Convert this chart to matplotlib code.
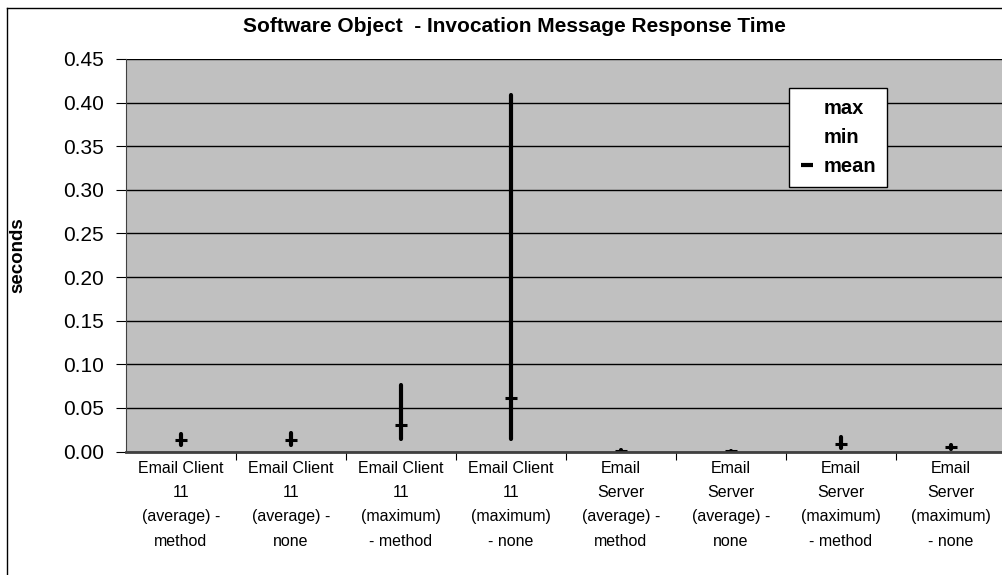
import matplotlib.pyplot as plt
from matplotlib.lines import Line2D

categories = ['Email Client\n11\n(average) -\nmethod', 'Email Client\n11\n(average) -\nnone',
              'Email Client\n11\n(maximum)\n- method', 'Email Client\n11\n(maximum)\n- none',
              'Email\nServer\n(average) -\nmethod', 'Email\nServer\n(average) -\nnone',
              'Email\nServer\n(maximum)\n- method', 'Email\nServer\n(maximum)\n- none']
max_vals = [0.020, 0.021, 0.076, 0.409, 0.002, 0.001, 0.017, 0.008]
min_vals = [0.007, 0.007, 0.014, 0.014, 0.000, 0.000, 0.004, 0.003]
mean_vals = [0.0135, 0.0135, 0.030, 0.061, 0.001, 0.0005, 0.009, 0.005]
yticks = [0.00, 0.05, 0.10, 0.15, 0.20, 0.25, 0.30, 0.35, 0.40, 0.45]

W, H = 1003, 575
fig = plt.figure(figsize=(W/100, H/100), dpi=100)
fig.patch.set_facecolor('white')

# outer chart border (clipped at right/bottom like the original)
fig.add_artist(Line2D([7/W, 7/W], [0, 1-8/H], color='k', lw=1))
fig.add_artist(Line2D([7/W, 1], [1-8/H, 1-8/H], color='k', lw=1))

left, right, top, bottom = 126, 1006, 59, 451.6
ax = fig.add_axes([left/W, 1-bottom/H, (right-left)/W, (bottom-top)/H])
ax.set_facecolor('#c0c0c0')

x = list(range(len(categories)))
ax.vlines(x, min_vals, max_vals, color='k', lw=3, capstyle='round')
ax.plot(x, mean_vals, ls='none', marker='_', ms=9, mew=2.2, color='k')

ax.set_xlim(-0.5, len(categories)-0.5)
ax.set_ylim(0, 0.45)
ax.set_yticks(yticks)
ax.set_yticklabels(['%.2f' % v for v in yticks], fontsize=15, family='Liberation Sans')
ax.yaxis.grid(True, color='k', lw=1)
ax.set_axisbelow(True)

ax.set_xticks([i+0.5 for i in x[:-1]])
ax.set_xticklabels([])
ax.tick_params(axis='x', length=6, direction='out')
ax.tick_params(axis='y', length=7, direction='out', pad=9)
for i, lab in enumerate(categories):
    ax.text(i, -0.0105, lab, ha='center', va='top', fontsize=11.5, linespacing=1.78,
            family='Liberation Sans', transform=ax.transData, clip_on=False)

for s in ['top', 'right']:
    ax.spines[s].set_visible(False)
ax.spines['left'].set_color('#404040')
ax.spines['bottom'].set_color('#404040')
ax.spines['bottom'].set_linewidth(2)

fig.text(514/W, 1-27/H, 'Software Object  - Invocation Message Response Time',
         ha='center', va='center', fontsize=15, fontweight='bold', family='Liberation Sans')
fig.text(18/W, 1-255/H, 'seconds', rotation=90, ha='center', va='center',
         fontsize=13.5, fontweight='bold', family='Liberation Sans')

handles = [Line2D([], [], ls='none'), Line2D([], [], ls='none'),
           Line2D([], [], ls='none', marker='_', ms=8, mew=3, color='k')]
leg = fig.legend(handles, ['max', 'min', 'mean'], loc='upper left',
                 bbox_to_anchor=(789/W, 1-88/H), frameon=True, fancybox=False,
                 edgecolor='k', framealpha=1, handlelength=0.7, handletextpad=0.45,
                 labelspacing=0.5, borderpad=0.55, borderaxespad=0,
                 prop={'family': 'Liberation Sans', 'weight': 'bold', 'size': 14.5})
leg.get_frame().set_linewidth(1)

fig.savefig('out.png', dpi=100)
